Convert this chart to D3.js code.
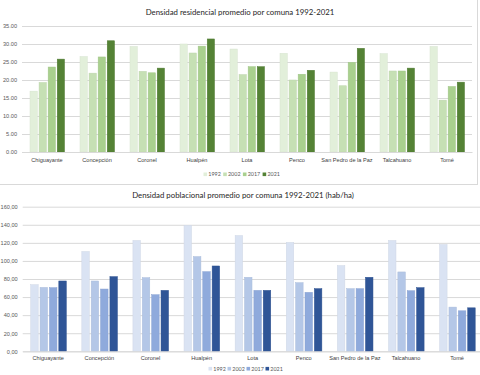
<!DOCTYPE html>
<html>
<head>
<meta charset="utf-8">
<script src="https://cdn.jsdelivr.net/npm/d3@7"></script>
<style>
  body { margin: 0; background: #fff; }
  svg { display: block; font-family: Lato, "Open Sans", sans-serif; }
</style>
</head>
<body>
<div id="viz"></div>
<script>
var comunas = ['Chiguayante', 'Concepción', 'Coronel', 'Hualpén', 'Lota', 'Penco', 'San Pedro de la Paz', 'Talcahuano', 'Tomé'],
    years = ['1992', '2002', '2017', '2021'];

// densidad residencial
var res1992 = [16.9, 26.5, 29.3, 30.0, 28.6, 27.4, 22.2, 27.3, 29.3],
    res2002 = [19.3, 21.9, 22.4, 27.5, 21.5, 20.0, 18.4, 22.5, 14.4],
    res2017 = [23.6, 26.4, 22.0, 29.4, 23.7, 21.6, 24.9, 22.5, 18.2],
    res2021 = [25.8, 30.9, 23.3, 31.4, 23.7, 22.7, 28.8, 23.3, 19.4],
    resTicks = [0, 5, 10, 15, 20, 25, 30, 35];

// densidad poblacional
var pob1992 = [73.7, 110.4, 122.6, 139.3, 128.1, 120.4, 94.8, 122.6, 118.1],
    pob2002 = [70.7, 77.8, 81.5, 104.8, 81.9, 75.9, 69.3, 87.8, 48.9],
    pob2017 = [70.4, 68.9, 62.6, 88.1, 67.4, 65.2, 69.3, 67.0, 44.8],
    pob2021 = [77.8, 82.6, 67.4, 94.4, 67.4, 69.3, 81.9, 70.4, 48.1],
    pobTicks = [0, 20, 40, 60, 80, 100, 120, 140, 160];

var svg = d3.select('#viz').append('svg')
  .attr('width', 480)
  .attr('height', 375);

// marco del primer grafico
svg.append('rect')
  .attr('x', -1).attr('y', -1)
  .attr('width', 478.5).attr('height', 185.5)
  .attr('fill', 'none')
  .attr('stroke', '#d9d9d9');

function drawChart(cfg) {
  var g = svg.append('g');

  var x = d3.scaleBand().domain(comunas).range(cfg.xRange);
  var xInner = d3.scaleBand().domain(years)
    .range([8, x.bandwidth() - 7.5])
    .paddingInner(0.2);
  var y = d3.scaleLinear().domain(cfg.yDomain).range(cfg.yRange);
  var color = d3.scaleOrdinal().domain(years).range(cfg.colors);

  var plotW = cfg.xRange[1] - cfg.xRange[0];

  var yAxis = g.append('g')
    .attr('transform', 'translate(' + cfg.xRange[0] + ',0)')
    .call(d3.axisLeft(y).tickValues(cfg.ticks).tickSize(-plotW).tickPadding(5).tickFormat(cfg.fmt));
  yAxis.select('.domain').remove();
  yAxis.selectAll('line').attr('stroke', '#d9d9d9');
  yAxis.selectAll('text').attr('fill', '#595959').style('font-size', '5.6px');

  var rows = [];
  comunas.forEach(function(c, i) {
    years.forEach(function(yr, j) {
      rows.push({ comuna: c, year: yr, value: cfg.series[j][i] });
    });
  });

  g.selectAll('rect.bar').data(rows)
    .enter().append('rect')
      .attr('class', 'bar')
      .attr('x', function(d) { return x(d.comuna) + xInner(d.year); })
      .attr('y', function(d) { return y(d.value); })
      .attr('width', xInner.bandwidth())
      .attr('height', function(d) { return y(0) - y(d.value); })
      .attr('fill', function(d) { return color(d.year); })
      .attr('stroke', function(d) { return d3.color(color(d.year)).darker(0.15); })
      .attr('stroke-width', 0.5);

  var xAxis = g.append('g')
    .attr('transform', 'translate(0,' + y(0) + ')')
    .call(d3.axisBottom(x).tickSize(0).tickPadding(cfg.labelPad));
  xAxis.select('.domain').attr('stroke', '#d9d9d9');
  xAxis.selectAll('text').attr('fill', '#404040').style('font-size', '5.6px');

  g.append('text')
    .attr('x', cfg.titleX)
    .attr('y', cfg.titleY)
    .attr('text-anchor', 'middle')
    .attr('fill', '#262626')
    .style('font-size', '7.8px')
    .text(cfg.title);

  var leg = g.selectAll('g.leg').data(years)
    .enter().append('g')
      .attr('class', 'leg')
      .attr('transform', function(d, i) {
        return 'translate(' + (cfg.legendX + i * cfg.legendStep) + ',' + cfg.legendY + ')';
      });
  leg.append('rect')
    .attr('x', 0).attr('y', -1.8)
    .attr('width', 3.6).attr('height', 3.6)
    .attr('fill', function(d) { return color(d); });
  leg.append('text')
    .attr('x', 4.8).attr('y', 2)
    .attr('fill', '#595959')
    .style('font-size', '5.4px')
    .text(function(d) { return d; });
}

drawChart({
  series: [res1992, res2002, res2017, res2021],
  ticks: resTicks,
  fmt: function(d) { return d3.format('.2f')(d); },
  yDomain: [0, 35], yRange: [152, 26],
  xRange: [22, 472],
  colors: ['#e2efda', '#c6e0b4', '#a9d08e', '#548235'],
  labelPad: 6,
  title: 'Densidad residencial promedio por comuna 1992-2021',
  titleX: 240, titleY: 15,
  legendX: 203.5, legendY: 174.3, legendStep: 19.7
});

drawChart({
  series: [pob1992, pob2002, pob2017, pob2021],
  ticks: pobTicks,
  fmt: function(d) { return d3.format('.2f')(d).replace('.', ','); },
  yDomain: [0, 160], yRange: [351.3, 206.7],
  xRange: [22.7, 482.7],
  colors: ['#dae3f3', '#b4c7e7', '#8faadc', '#2f5597'],
  labelPad: 4.5,
  title: 'Densidad poblacional promedio por comuna 1992-2021 (hab/ha)',
  titleX: 243, titleY: 197.5,
  legendX: 208.5, legendY: 368.7, legendStep: 19
});
</script>
</body>
</html>
